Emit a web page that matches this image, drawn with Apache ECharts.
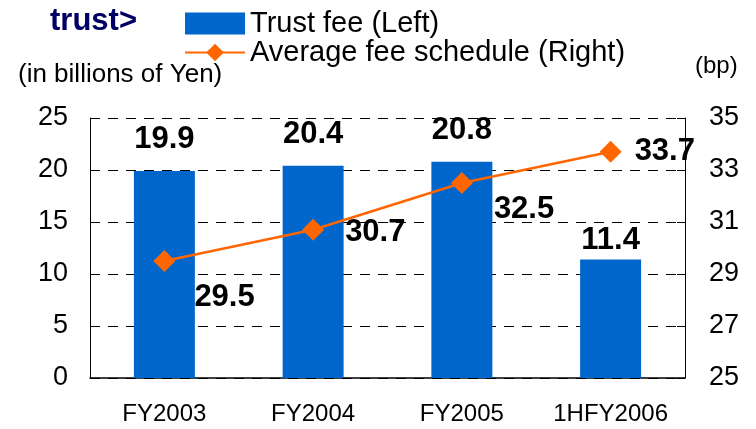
<!DOCTYPE html>
<html>
<head>
<meta charset="utf-8">
<script src="https://cdn.jsdelivr.net/npm/echarts@6/dist/echarts.min.js"></script>
<style>
  html, body { margin: 0; padding: 0; background: #fff; }
  #chart { width: 756px; height: 429px; }
</style>
</head>
<body>
<div id="chart"></div>
<script>
// data
var categories = ["FY2003", "FY2004", "FY2005", "1HFY2006"];
var trustFee = [19.9, 20.4, 20.8, 11.4];
var avgFee = [29.5, 30.7, 32.5, 33.7];
var leftTicks = [0, 5, 10, 15, 20, 25];
var rightTicks = [25, 27, 29, 31, 33, 35];

// label placement (style only)
var barLabelDist = [16, 16, 16, 3];
var lineLabelPos = [
  { position: "right", offset: [14, 36] },
  { position: "right", offset: [16, 3] },
  { position: "right", offset: [16, 26] },
  { position: "right", offset: [8, 0] }
];

var font = "Liberation Sans, Arial, sans-serif";
var chart = echarts.init(document.getElementById("chart"));

var option = {
  animation: false,
  textStyle: { fontFamily: font },
  graphic: [
    { type: "text", left: 50, top: 6, style: { text: "trust>", fontFamily: font, fontSize: 31, fontWeight: "bold", fill: "#000066" } },
    { type: "text", left: 18, top: 62, style: { text: "(in billions of Yen)", fontFamily: font, fontSize: 26, fill: "#000" } },
    { type: "text", left: 695, top: 54, style: { text: "(bp)", fontFamily: font, fontSize: 24, fill: "#000" } }
  ],
  legend: {
    orient: "vertical",
    left: 179,
    top: 4,
    itemGap: 0,
    itemWidth: 60,
    itemHeight: 22,
    textStyle: { fontSize: 29, lineHeight: 28, color: "#000", fontFamily: font },
    data: [
      { name: "Trust fee (Left)", icon: "rect" },
      { name: "Average fee schedule (Right)" }
    ]
  },
  grid: { left: 90, right: 71, top: 118, bottom: 51 },
  xAxis: {
    type: "category",
    data: categories,
    axisLine: { lineStyle: { color: "#000", width: 1.5 } },
    axisTick: { inside: true, length: 8, lineStyle: { color: "#000" } },
    axisLabel: { interval: 0, fontSize: 24, color: "#000", margin: 24 }
  },
  yAxis: [
    {
      type: "value", min: leftTicks[0], max: leftTicks[leftTicks.length - 1], interval: 5,
      axisLine: { show: true, lineStyle: { color: "#000" } },
      axisTick: { show: false },
      axisLabel: { fontSize: 27, color: "#000", margin: 22 },
      splitLine: { lineStyle: { color: "#000", type: [10, 8] } }
    },
    {
      type: "value", min: rightTicks[0], max: rightTicks[rightTicks.length - 1], interval: 2,
      position: "right",
      axisLine: { show: true, lineStyle: { color: "#000" } },
      axisTick: { show: true, inside: true, length: 8, lineStyle: { color: "#000" } },
      axisLabel: { fontSize: 27, color: "#000", margin: 24 },
      splitLine: { show: false }
    }
  ],
  series: [
    {
      name: "Trust fee (Left)",
      type: "bar",
      data: trustFee.map(function (v, i) {
        return { value: v, label: { distance: barLabelDist[i] } };
      }),
      barWidth: "41%",
      itemStyle: { color: "#0066CC" },
      label: {
        show: true, position: "top",
        fontSize: 31, fontWeight: "bold", color: "#000", fontFamily: font
      }
    },
    {
      name: "Average fee schedule (Right)",
      type: "line",
      yAxisIndex: 1,
      data: avgFee.map(function (v, i) {
        return { value: v, label: lineLabelPos[i] };
      }),
      symbol: "diamond",
      symbolSize: 22,
      lineStyle: { color: "#FF6600", width: 2.5 },
      itemStyle: { color: "#FF6600" },
      label: {
        show: true, fontSize: 31, fontWeight: "bold", color: "#000", fontFamily: font
      }
    }
  ]
};

option && chart.setOption(option);
</script>
</body>
</html>
